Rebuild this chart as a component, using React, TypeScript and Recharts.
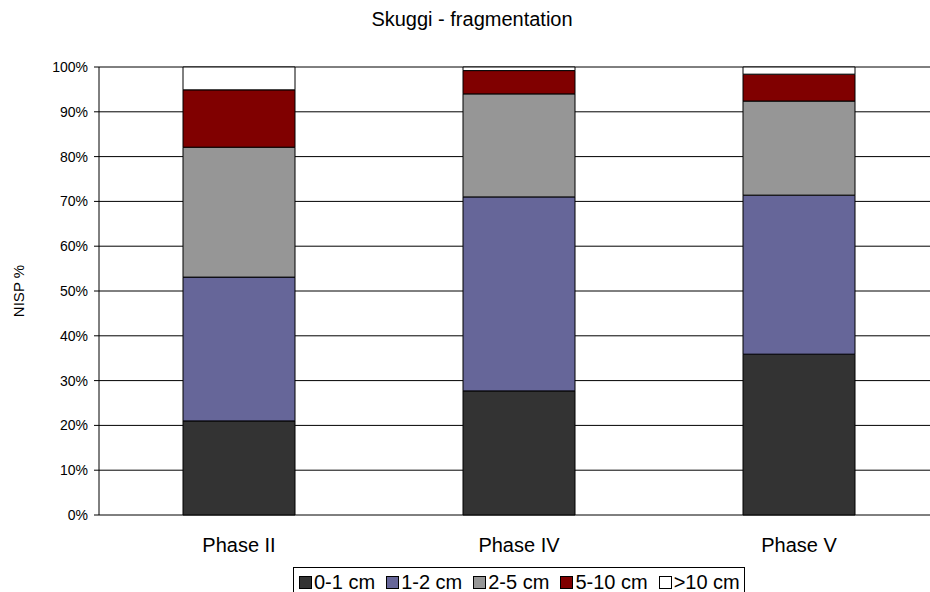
import React from 'react';
import { BarChart, Bar, XAxis, YAxis, CartesianGrid, Label } from 'recharts';

const phases = ['Phase II', 'Phase IV', 'Phase V'];
const cm0to1 = [21.0, 27.7, 35.9];
const cm1to2 = [32.1, 43.3, 35.5];
const cm2to5 = [29.0, 23.0, 21.0];
const cm5to10 = [12.8, 5.2, 6.0];
const cmOver10 = [5.1, 0.8, 1.6];
const yTicks = [0, 10, 20, 30, 40, 50, 60, 70, 80, 90, 100];
const boundaryTicks = [0, 1, 2, 3];

const series = [
  { key: 'a', name: '0-1 cm', values: cm0to1, color: '#333333' },
  { key: 'b', name: '1-2 cm', values: cm1to2, color: '#666699' },
  { key: 'c', name: '2-5 cm', values: cm2to5, color: '#969696' },
  { key: 'd', name: '5-10 cm', values: cm5to10, color: '#800000' },
  { key: 'e', name: '>10 cm', values: cmOver10, color: '#FFFFFF' },
];

const data = phases.map((p, i) => {
  const row: any = { phase: p, idx: i + 0.5 };
  series.forEach((s) => (row[s.key] = s.values[i]));
  return row;
});

const font = '"Liberation Sans", Arial, sans-serif';

const BoundaryTick = (props: any) => {
  const { x, y } = props;
  return <line x1={x} x2={x} y1={y} y2={y + 5} stroke="#000" strokeWidth={1} />;
};

export default function App() {
  return (
    <div style={{ position: 'absolute', left: 0, top: 0, width: 930, height: 592, overflow: 'hidden', background: '#fff', fontFamily: font }}>
      <div style={{ position: 'absolute', left: 272, width: 400, top: 8, textAlign: 'center', fontSize: 20, color: '#000', lineHeight: '23px' }}>
        Skuggi - fragmentation
      </div>
      <BarChart
        width={930}
        height={592}
        data={data}
        margin={{ top: 67, right: -9, left: 0, bottom: 37 }}
        barCategoryGap="30%"
        style={{ fontFamily: font }}
      >
        <CartesianGrid horizontal={true} vertical={false} stroke="#000" strokeWidth={1} />
        <XAxis
          xAxisId="grid"
          type="number"
          dataKey="idx"
          domain={[0, 3]}
          ticks={boundaryTicks}
          height={0}
          tickSize={0}
          tickMargin={0}
          tickLine={false}
          tick={<BoundaryTick />}
          interval={0}
          axisLine={{ stroke: '#000' }}
        />
        <XAxis
          xAxisId="cat"
          dataKey="phase"
          height={40}
          tickLine={false}
          axisLine={false}
          tickSize={6}
          tickMargin={17}
          tick={{ fontSize: 20, fill: '#000', fontFamily: font }}
        />
        <YAxis
          width={99}
          domain={[0, 100]}
          ticks={yTicks}
          tickFormatter={(v) => `${v}%`}
          tickSize={5}
          tickMargin={6}
          interval={0}
          stroke="#000"
          tick={{ fontSize: 14, fill: '#000', fontFamily: font }}
        >
          <Label value="NISP %" angle={-90} position="insideLeft" dx={14} style={{ fontSize: 15, fill: '#000', fontFamily: font, textAnchor: 'middle' }} />
        </YAxis>
        {series.map((s) => (
          <Bar
            key={s.key}
            xAxisId="cat"
            dataKey={s.key}
            name={s.name}
            stackId="1"
            fill={s.color}
            stroke="#000"
            strokeWidth={1}
            isAnimationActive={false}
          />
        ))}
      </BarChart>
      <div
        style={{
          position: 'absolute',
          left: 293,
          top: 567,
          width: 452,
          height: 25,
          border: '1px solid #000',
          borderBottom: 'none',
          boxSizing: 'border-box',
          display: 'flex',
          alignItems: 'flex-start',
          paddingLeft: 5,
          paddingTop: 5,
          fontSize: 20,
          lineHeight: '18px',
          color: '#000',
          whiteSpace: 'nowrap',
        }}
      >
        {series.map((s) => (
          <span key={s.key} style={{ display: 'inline-flex', alignItems: 'center', marginRight: 11, height: 18 }}>
            <span style={{ display: 'inline-block', width: 13, height: 13, background: s.color, border: '1px solid #000', boxSizing: 'border-box', marginRight: 2 }} />
            {s.name}
          </span>
        ))}
      </div>
    </div>
  );
}
